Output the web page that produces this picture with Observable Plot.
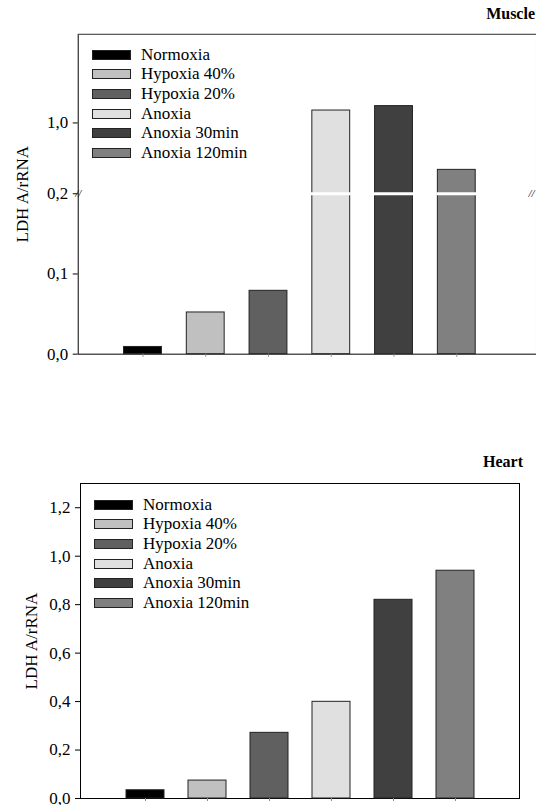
<!DOCTYPE html>
<html>
<head>
<meta charset="utf-8">
<script src="https://cdn.jsdelivr.net/npm/d3@7"></script>
<script src="https://cdn.jsdelivr.net/npm/@observablehq/plot@0.6"></script>
<style>
  html, body { margin: 0; padding: 0; background: white; overflow: hidden; }
  #root { position: relative; width: 536px; height: 805px; overflow: hidden; font-family: "Liberation Serif", "Times New Roman", serif; }
  .panel { position: absolute; left: 0; }
  .title { position: absolute; font-weight: bold; font-size: 16px; color: #000; }
  .legend { position: absolute; font-size: 17px; color: #000; }
  .legend .row { display: flex; align-items: center; height: 19.6px; }
  .legend .sw { width: 37px; height: 8px; border: 1px solid #222; margin-right: 10px; }
</style>
</head>
<body>
<div id="root"></div>
<script>
const categories = ["Normoxia", "Hypoxia 40%", "Hypoxia 20%", "Anoxia", "Anoxia 30min", "Anoxia 120min"];
const colors = ["#000000", "#c0c0c0", "#606060", "#e0e0e0", "#404040", "#808080"];
const muscleValues = [0.009, 0.052, 0.079, 1.14, 1.19, 0.47];
const heartValues = [0.034, 0.074, 0.271, 0.399, 0.82, 0.94];
const muscleTicks = [0, 0.1, 0.2, 1.0];
const heartTicks = [0, 0.2, 0.4, 0.6, 0.8, 1.0, 1.2];
const muscleBreak = 0.2;
const yLabel = "LDH A/rRNA";

const muscle = categories.map((c, i) => ({cat: c, value: muscleValues[i]}));
const heart = categories.map((c, i) => ({cat: c, value: heartValues[i]}));
const fmt = d => d.toFixed(1).replace(".", ",");
const font = {fontFamily: '"Liberation Serif", "Times New Roman", serif', fontSize: "16px", background: "white", color: "black", overflow: "visible"};

const root = document.getElementById("root");

// Muscle panel (broken y axis via a piecewise linear scale)
const musclePlot = Plot.plot({
  width: 538, height: 400,
  marginLeft: 78, marginRight: 0, marginTop: 34, marginBottom: 45,
  style: font,
  x: {type: "band", domain: categories, range: [78, 523], paddingInner: 0.395, paddingOuter: 0.697, axis: null},
  y: {type: "linear", domain: [0, muscleBreak, 2], range: [355, 194, 34], axis: null},
  color: {domain: categories, range: colors},
  marks: [
    Plot.frame({stroke: "#000"}),
    Plot.ruleY([2], {stroke: "#666"}),
    Plot.barY(muscle, {x: "cat", y: "value", fill: "cat", stroke: "#222", strokeWidth: 1}),
    Plot.tickY(muscle.filter(d => d.value > muscleBreak), {x: "cat", y: () => muscleBreak, stroke: "white", strokeWidth: 3, insetLeft: -1, insetRight: -1}),
    Plot.axisX({tickSize: 3, tickFormat: () => "", stroke: "#888", label: null}),
    Plot.axisY({ticks: muscleTicks, tickFormat: fmt, tickSize: 5, tickPadding: 5, label: yLabel, labelAnchor: "center", labelOffset: 62, labelArrow: "none", fontSize: 17}),
    Plot.text([muscleBreak], {y: d => d, frameAnchor: "left", textAnchor: "middle", text: () => "//", fontSize: 11, fontStyle: "italic"}),
    Plot.text([muscleBreak], {y: d => d, frameAnchor: "right", textAnchor: "middle", dx: -5, text: () => "//", fontSize: 11, fontStyle: "italic"})
  ]
});
const w1 = document.createElement("div");
w1.className = "panel"; w1.style.top = "0px";
w1.appendChild(musclePlot);
root.appendChild(w1);

// Heart panel
const heartPlot = Plot.plot({
  width: 536, height: 365,
  marginLeft: 80, marginRight: 17, marginTop: 43, marginBottom: 7,
  style: font,
  x: {type: "band", domain: categories, paddingInner: 0.395, paddingOuter: 0.697, axis: null},
  y: {type: "linear", domain: [0, 1.3], axis: null},
  color: {domain: categories, range: colors},
  marks: [
    Plot.frame({stroke: "#000"}),
    Plot.barY(heart, {x: "cat", y: "value", fill: "cat", stroke: "#222", strokeWidth: 1}),
    Plot.axisX({tickSize: 3, tickFormat: () => "", stroke: "#888", label: null}),
    Plot.axisY({ticks: heartTicks, tickFormat: fmt, tickSize: 5, tickPadding: 5, label: yLabel, labelAnchor: "center", labelOffset: 56, labelArrow: "none", fontSize: 17})
  ]
});
const w2 = document.createElement("div");
w2.className = "panel"; w2.style.top = "440px";
w2.appendChild(heartPlot);
root.appendChild(w2);

// Titles
function addTitle(text, topPx, rightPx) {
  const t = document.createElement("div");
  t.className = "title"; t.textContent = text;
  t.style.top = topPx + "px"; t.style.right = rightPx + "px";
  root.appendChild(t);
}
addTitle("Muscle", 5, 1);
addTitle("Heart", 453, 13);

// Legends
function addLegend(leftPx, topPx) {
  const lg = document.createElement("div");
  lg.className = "legend";
  lg.style.left = leftPx + "px"; lg.style.top = topPx + "px";
  categories.forEach((c, i) => {
    const row = document.createElement("div"); row.className = "row";
    const sw = document.createElement("div"); sw.className = "sw"; sw.style.background = colors[i];
    const lb = document.createElement("span"); lb.textContent = c;
    row.appendChild(sw); row.appendChild(lb);
    lg.appendChild(row);
  });
  root.appendChild(lg);
}
addLegend(92, 45);
addLegend(94, 495);
</script>
</body>
</html>
